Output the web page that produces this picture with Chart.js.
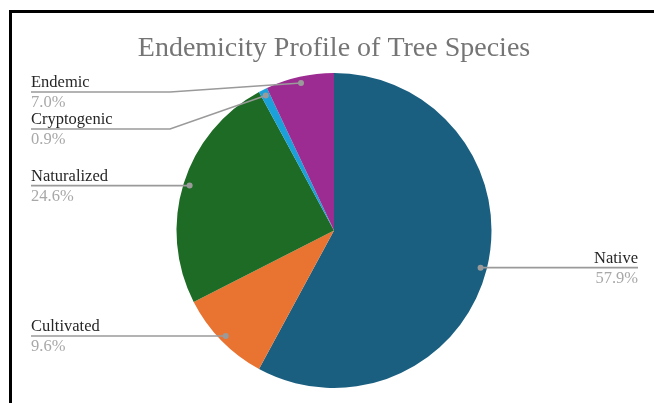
<!DOCTYPE html>
<html>
<head>
<meta charset="utf-8">
<script src="https://cdn.jsdelivr.net/npm/chart.js@4"></script>
<style>
  html, body { margin: 0; padding: 0; background: #fff; }
  #wrap { width: 654px; height: 403px; position: relative; }
</style>
</head>
<body>
<div id="wrap"><canvas id="myChart"></canvas></div>
<script>
const categories = ["Native", "Cultivated", "Naturalized", "Cryptogenic", "Endemic"];
const shares = [57.9, 9.6, 24.6, 0.9, 7.0];
const sliceColors = ["#1a5f80", "#e97331", "#1d6b24", "#1ba0da", "#9c2c91"];
const chartTitle = "Endemicity Profile of Tree Species";

// frame, title and the leader-line labels
const decorations = {
  id: "decorations",
  afterDraw(chart) {
    const ctx = chart.ctx;
    ctx.save();
    ctx.fillStyle = "#000";
    ctx.fillRect(9, 10, 660, 3);
    ctx.fillRect(9, 10, 3, 400);

    ctx.fillStyle = "#757575";
    ctx.font = "28px 'Liberation Serif', 'Times New Roman', serif";
    ctx.textAlign = "center";
    ctx.textBaseline = "alphabetic";
    ctx.fillText(chartTitle, 334, 56);

    const arcs = chart.getDatasetMeta(0).data;
    const items = arcs.map((arc, i) => {
      const p = arc.getProps(["x", "y", "startAngle", "endAngle", "outerRadius"], true);
      const mid = (p.startAngle + p.endAngle) / 2;
      const r = p.outerRadius * 0.96;
      return { i, dx: p.x + Math.cos(mid) * r, dy: p.y + Math.sin(mid) * r, right: Math.cos(mid) > 0 };
    });

    const place = (list) => {
      list.sort((a, b) => a.dy - b.dy);
      let prev = -1e9;
      list.forEach(it => {
        it.ly = Math.max(it.dy, 92, prev + 37);
        prev = it.ly;
      });
    };
    place(items.filter(it => !it.right));
    place(items.filter(it => it.right));

    ctx.lineWidth = 1.6;
    ctx.strokeStyle = "#9a9a9a";
    items.forEach(it => {
      ctx.beginPath();
      if (it.right) {
        const elbow = Math.max(it.dx, 490);
        ctx.moveTo(it.dx, it.dy);
        ctx.lineTo(elbow, it.ly);
        ctx.lineTo(638, it.ly);
      } else {
        const elbow = Math.min(it.dx, 170);
        ctx.moveTo(it.dx, it.dy);
        ctx.lineTo(elbow, it.ly);
        ctx.lineTo(31, it.ly);
      }
      ctx.stroke();
      ctx.fillStyle = "#9a9a9a";
      ctx.beginPath();
      ctx.arc(it.dx, it.dy, 3, 0, Math.PI * 2);
      ctx.fill();

      const tx = it.right ? 638 : 31;
      ctx.textAlign = it.right ? "right" : "left";
      ctx.font = "16.5px 'Liberation Serif', 'Times New Roman', serif";
      ctx.fillStyle = "#262626";
      ctx.fillText(categories[it.i], tx, it.ly - 5);
      ctx.fillStyle = "#a8a8a8";
      ctx.fillText(shares[it.i].toFixed(1) + "%", tx, it.ly + 15);
    });
    ctx.restore();
  }
};

new Chart(document.getElementById("myChart"), {
  type: "pie",
  data: {
    labels: categories,
    datasets: [{
      data: shares,
      backgroundColor: sliceColors,
      borderWidth: 0
    }]
  },
  options: {
    responsive: true,
    maintainAspectRatio: false,
    animation: false,
    layout: { padding: { top: 73, bottom: 15, left: 14, right: 0 } },
    plugins: {
      legend: { display: false },
      tooltip: { enabled: false },
      title: { display: false }
    }
  },
  plugins: [decorations]
});
</script>
</body>
</html>
